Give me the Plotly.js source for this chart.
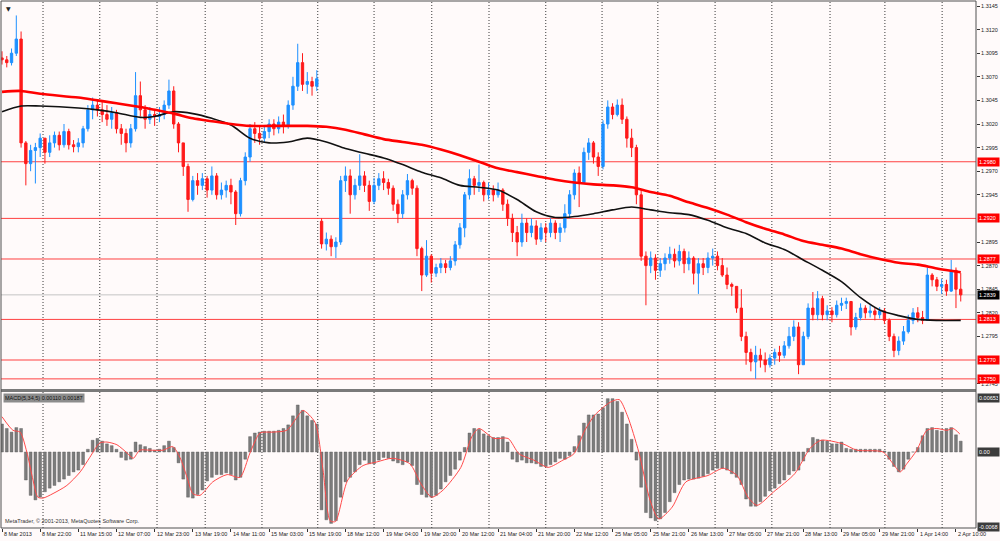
<!DOCTYPE html>
<html><head><meta charset="utf-8">
<script src="https://cdn.plot.ly/plotly-3.0.1.min.js"></script>
<style>html,body{margin:0;padding:0;background:#fffafa;}#chart{width:1000px;height:541px;}</style>
</head><body><div id="chart"></div>
<script>
// ---- price data (2-hour bars) ----
const firstOpen = 1.3090;
const gapOpens = {67: 1.2917};
const closes = [
1.3088,1.3085,1.3095,1.3110,1.3000,1.2978,1.2992,1.2995,1.3005,1.2990,
1.3000,1.3008,1.2998,1.3012,1.2998,1.2996,1.3000,1.3015,1.3035,1.3040,
1.3035,1.3030,1.3025,1.3032,1.3015,1.3010,1.3000,1.3015,1.3050,1.3035,
1.3025,1.3030,1.3028,1.3030,1.3040,1.3055,1.3020,1.3000,1.2975,1.2940,
1.2960,1.2955,1.2962,1.2950,1.2965,1.2945,1.2950,1.2955,1.2948,1.2925,
1.2960,1.2985,1.3015,1.3010,1.3005,1.3012,1.3020,1.3015,1.3022,1.3018,
1.3040,1.3060,1.3085,1.3062,1.3065,1.3060,1.3068,1.2893,1.2898,1.2890,
1.2895,1.2960,1.2965,1.2945,1.2955,1.2965,1.2955,1.2938,1.2955,1.2962,
1.2958,1.2952,1.2935,1.2925,1.2945,1.2960,1.2952,1.2888,1.2860,1.2880,
1.2862,1.2868,1.2872,1.2868,1.2875,1.2892,1.2910,1.2945,1.2962,1.2955,
1.2958,1.2945,1.2950,1.2945,1.2950,1.2935,1.2920,1.2905,1.2895,1.2915,
1.2905,1.2912,1.2898,1.2910,1.2905,1.2915,1.2905,1.2910,1.2925,1.2945,
1.2968,1.2958,1.2990,1.3000,1.2985,1.2975,1.3020,1.3038,1.3030,1.3040,
1.3025,1.3005,1.2995,1.2945,1.2880,1.2870,1.2878,1.2865,1.2872,1.2878,
1.2882,1.2875,1.2885,1.2872,1.2878,1.2862,1.2872,1.2868,1.2878,1.2880,
1.2870,1.2860,1.2850,1.2848,1.2825,1.2795,1.2778,1.2768,1.2775,1.2770,
1.2765,1.2772,1.2778,1.2775,1.2785,1.2795,1.2805,1.2765,1.2795,1.2825,
1.2818,1.2835,1.2818,1.2822,1.2818,1.2828,1.2830,1.2832,1.2805,1.2815,
1.2825,1.2820,1.2822,1.2818,1.2822,1.2812,1.2795,1.2780,1.2790,1.2800,
1.2812,1.2820,1.2815,1.2812,1.2860,1.2855,1.2848,1.2850,1.2843,1.2865,
1.2845,1.2839];
const highs = [
1.3097,1.3092,1.3100,1.3135,1.3118,1.3002,1.2998,1.3000,1.3010,1.3005,
1.3008,1.3012,1.3012,1.3020,1.3015,1.3003,1.3005,1.3018,1.3040,1.3048,
1.3045,1.3045,1.3040,1.3038,1.3035,1.3020,1.3015,1.3020,1.3075,1.3065,
1.3040,1.3038,1.3036,1.3038,1.3045,1.3067,1.3060,1.3022,1.3000,1.2978,
1.2965,1.2968,1.2968,1.2965,1.2975,1.2968,1.2958,1.2960,1.2962,1.2950,
1.2963,1.2990,1.3020,1.3022,1.3018,1.3018,1.3025,1.3025,1.3028,1.3030,
1.3045,1.3070,1.3105,1.3095,1.3075,1.3070,1.3077,1.2920,1.2905,1.2902,
1.2900,1.2965,1.2975,1.2972,1.2962,1.2988,1.2970,1.2960,1.2963,1.2968,
1.2970,1.2962,1.2955,1.2940,1.2950,1.2967,1.2962,1.2955,1.2890,1.2897,
1.2882,1.2872,1.2878,1.2876,1.2880,1.2896,1.2915,1.2948,1.2972,1.2965,
1.2977,1.2960,1.2958,1.2955,1.2958,1.2952,1.2940,1.2925,1.2912,1.2925,
1.2920,1.2920,1.2918,1.2915,1.2915,1.2920,1.2918,1.2915,1.2935,1.2950,
1.2972,1.2975,1.2995,1.3005,1.3002,1.2990,1.3024,1.3045,1.3042,1.3046,
1.3047,1.3028,1.3015,1.2998,1.2950,1.2885,1.2885,1.2882,1.2878,1.2883,
1.2890,1.2888,1.2892,1.2888,1.2885,1.2880,1.2878,1.2878,1.2884,1.2888,
1.2885,1.2878,1.2868,1.2852,1.2848,1.2845,1.2800,1.2782,1.2785,1.2782,
1.2778,1.2776,1.2782,1.2785,1.2790,1.2805,1.2812,1.2810,1.2800,1.2830,
1.2842,1.2843,1.2838,1.2828,1.2826,1.2833,1.2836,1.2836,1.2832,1.2820,
1.2830,1.2828,1.2828,1.2826,1.2826,1.2825,1.2814,1.2798,1.2795,1.2806,
1.2818,1.2825,1.2826,1.2822,1.2868,1.2862,1.2858,1.2856,1.2855,1.2876,
1.2868,1.2862];
const lows = [
1.3083,1.3080,1.3082,1.3092,1.2995,1.2955,1.2970,1.2957,1.2985,1.2978,
1.2985,1.2995,1.2992,1.2995,1.2993,1.2990,1.2990,1.2995,1.3012,1.3025,
1.3028,1.3022,1.3018,1.3015,1.3010,1.2998,1.2990,1.2995,1.3012,1.3028,
1.3015,1.3020,1.3018,1.3022,1.3025,1.3036,1.3015,1.2990,1.2965,1.2927,
1.2938,1.2945,1.2950,1.2942,1.2945,1.2940,1.2940,1.2942,1.2935,1.2913,
1.2922,1.2955,1.2980,1.3000,1.2998,1.3000,1.3005,1.3008,1.3010,1.3010,
1.3015,1.3035,1.3055,1.3055,1.3052,1.3050,1.3055,1.2888,1.2886,1.2880,
1.2878,1.2892,1.2948,1.2925,1.2940,1.2950,1.2948,1.2928,1.2935,1.2950,
1.2950,1.2945,1.2928,1.2915,1.2920,1.2940,1.2945,1.2880,1.2843,1.2858,
1.2852,1.2858,1.2862,1.2862,1.2865,1.2870,1.2888,1.2900,1.2940,1.2945,
1.2948,1.2938,1.2940,1.2938,1.2942,1.2928,1.2912,1.2895,1.2880,1.2890,
1.2895,1.2900,1.2892,1.2895,1.2895,1.2900,1.2898,1.2895,1.2905,1.2920,
1.2940,1.2932,1.2958,1.2982,1.2978,1.2965,1.2972,1.3015,1.3025,1.3028,
1.3020,1.2995,1.2985,1.2935,1.2875,1.2828,1.2862,1.2855,1.2858,1.2865,
1.2872,1.2868,1.2870,1.2862,1.2865,1.2850,1.2840,1.2860,1.2862,1.2870,
1.2865,1.2858,1.2845,1.2838,1.2820,1.2790,1.2765,1.2758,1.2750,1.2762,
1.2757,1.2762,1.2765,1.2768,1.2772,1.2782,1.2790,1.2755,1.2765,1.2792,
1.2812,1.2812,1.2812,1.2812,1.2810,1.2815,1.2822,1.2824,1.2796,1.2802,
1.2812,1.2814,1.2815,1.2812,1.2814,1.2808,1.2790,1.2773,1.2775,1.2786,
1.2798,1.2808,1.2810,1.2808,1.2812,1.2848,1.2843,1.2840,1.2838,1.2842,
1.2825,1.2832];

// ---- moving averages read at sample bars ----
const maIdx = [0,4,8,16,20,24,29,32,36,40,44,48,52,56,60,64,68,72,76,80,84,88,92,96,100,104,108,112,116,120,124,128,132,136,140,144,148,152,156,160,164,168,172,176,180,184,188,192,196,201];
const maRed = [1.3054,1.3055,1.3052,1.3048,1.3045,1.3042,1.3038,1.3035,1.3031,1.3026,1.3023,1.3020,1.3018,1.3018,1.3018,1.3018,1.3017,1.3014,1.3009,1.3004,1.3001,1.2998,1.2993,1.2987,1.2980,1.2973,1.2969,1.2965,1.2961,1.2958,1.2956,1.2955,1.2953,1.2948,1.2944,1.2937,1.2931,1.2924,1.2916,1.2909,1.2903,1.2896,1.2892,1.2888,1.2882,1.2877,1.2873,1.2871,1.2867,1.2863];
const maBlack = [1.3033,1.3039,1.3039,1.3037,1.3035,1.3032,1.3027,1.3028,1.3033,1.3031,1.3026,1.3019,1.3005,1.3000,1.3001,1.3005,1.3001,1.2994,1.2989,1.2984,1.2977,1.2969,1.2963,1.2955,1.2953,1.2950,1.2940,1.2927,1.2921,1.2922,1.2925,1.2929,1.2932,1.2929,1.2926,1.2924,1.2918,1.2910,1.2904,1.2894,1.2887,1.2876,1.2865,1.2853,1.2836,1.2823,1.2817,1.2813,1.2812,1.2812];

// ---- MACD histogram (per bar) and signal (sampled) ----
const macdHist = [
0.0031,0.0026,0.0022,0.0027,0.0026,-0.0031,-0.0048,-0.0053,-0.0050,-0.0044,
-0.0040,-0.0037,-0.0033,-0.0030,-0.0026,-0.0022,-0.0020,-0.0014,0.0003,0.0013,
0.0015,0.0012,0.0009,0.0007,0.0003,-0.0006,-0.0009,-0.0008,0.0011,0.0008,
0.0006,0.0004,0.0002,0.0003,0.0007,0.0012,0.0005,-0.0012,-0.0030,-0.0050,
-0.0051,-0.0047,-0.0042,-0.0032,-0.0028,-0.0025,-0.0025,-0.0023,-0.0025,-0.0031,
-0.0028,-0.0008,0.0017,0.0021,0.0022,0.0023,0.0023,0.0023,0.0024,0.0026,
0.0030,0.0040,0.0052,0.0046,0.0040,0.0035,0.0031,-0.0064,-0.0075,-0.0079,
-0.0076,-0.0050,-0.0033,-0.0028,-0.0022,-0.0014,-0.0009,-0.0013,-0.0013,-0.0009,
-0.0006,-0.0007,-0.0010,-0.0012,-0.0014,-0.0011,-0.0015,-0.0036,-0.0047,-0.0050,
-0.0050,-0.0048,-0.0041,-0.0033,-0.0026,-0.0019,-0.0009,0.0005,0.0021,0.0026,
0.0025,0.0020,0.0018,0.0016,0.0016,0.0017,0.0011,-0.0008,-0.0011,-0.0009,
-0.0012,-0.0012,-0.0013,-0.0016,-0.0016,-0.0014,-0.0011,-0.0007,-0.0008,-0.0004,
0.0006,0.0018,0.0032,0.0041,0.0041,0.0042,0.0049,0.0059,0.0059,0.0056,
0.0044,0.0031,0.0014,-0.0009,-0.0039,-0.0067,-0.0073,-0.0076,-0.0074,-0.0067,
-0.0055,-0.0045,-0.0036,-0.0031,-0.0030,-0.0030,-0.0029,-0.0027,-0.0024,-0.0020,
-0.0018,-0.0018,-0.0020,-0.0024,-0.0028,-0.0036,-0.0052,-0.0060,-0.0060,-0.0055,
-0.0049,-0.0043,-0.0040,-0.0035,-0.0031,-0.0025,-0.0021,-0.0020,-0.0010,0.0004,
0.0016,0.0014,0.0013,0.0012,0.0009,0.0009,0.0011,0.0004,0.0003,0.0003,
0.0003,0.0003,0.0003,0.0003,0.0003,0.0001,-0.0008,-0.0016,-0.0022,-0.0019,
-0.0008,0.0000,0.0005,0.0018,0.0026,0.0027,0.0024,0.0023,0.0026,0.0027,
0.0019,0.0012];
const sigIdx = [0,2.3,3.8,5.2,6.5,7.5,8.6,10.7,13.6,16.4,18.4,20.5,22,24.1,26.2,27.5,28.9,31,33.8,35.8,37.3,38.8,40,41.5,44.2,47.2,49.9,52,54.1,56.8,59.7,61.8,63.1,65.6,67.3,68.8,69.9,72.5,75.7,78.6,81.8,85.5,87.8,90.1,92.5,96.2,98.5,100,103.1,106.1,108.4,111.5,114.5,117.6,119.9,122.2,124.3,127.5,129.4,131.2,133.5,135.9,137.7,140.5,143.4,148,151.2,154.1,156.4,158.3,161.8,166.2,169.4,171.7,176.3,179.2,184.7,186.8,188.3,189.7,191.8,193.9,196,198.1,199.4,200.8];
const sigVal = [0.0039,0.0024,0.0022,0.0000,-0.0031,-0.0050,-0.0051,-0.0046,-0.0037,-0.0022,-0.0006,0.0010,0.0011,0.0008,-0.0001,-0.0007,0.0002,0.0002,0.0002,0.0006,-0.0006,-0.0028,-0.0046,-0.0048,-0.0033,-0.0025,-0.0028,-0.0001,0.0021,0.0022,0.0024,0.0038,0.0046,0.0033,-0.0020,-0.0076,-0.0077,-0.0031,-0.0015,-0.0011,-0.0007,-0.0013,-0.0035,-0.0050,-0.0042,-0.0017,0.0017,0.0026,0.0015,0.0015,-0.0002,-0.0009,-0.0017,-0.0009,-0.0002,0.0024,0.0041,0.0055,0.0058,0.0039,0.0000,-0.0054,-0.0074,-0.0061,-0.0033,-0.0026,-0.0018,-0.0026,-0.0050,-0.0059,-0.0044,-0.0024,0.0004,0.0013,0.0009,0.0002,0.0000,-0.0013,-0.0022,-0.0013,0.0002,0.0024,0.0026,0.0024,0.0026,0.0020];

// ---- levels, ticks, labels ----
const levels = [1.2980, 1.2920, 1.2877, 1.2813, 1.2770, 1.2750];
const priceTicks = [1.3145,1.3120,1.3095,1.3070,1.3045,1.3020,1.2995,1.2970,1.2945,1.2895,1.2870,1.2845,1.2820,1.2795,1.2745];
const tickIdx = [0,8,16,24,32,40,48,56,64,72,80,88,96,104,112,120,128,136,144,152,160,168,176,184,192,200];
const tickLabels = ["8 Mar 2013","8 Mar 22:00","11 Mar 15:00","12 Mar 07:00","12 Mar 23:00","13 Mar 19:00","14 Mar 11:00","15 Mar 03:00","15 Mar 19:00","18 Mar 12:00","19 Mar 04:00","19 Mar 20:00","20 Mar 12:00","21 Mar 04:00","21 Mar 20:00","22 Mar 12:00","25 Mar 05:00","25 Mar 21:00","26 Mar 13:00","27 Mar 05:00","27 Mar 21:00","28 Mar 13:00","29 Mar 05:00","29 Mar 21:00","1 Apr 14:00","2 Apr 10:00"];
const gridIdx = [8.6,20.5,32.5,42.6,54.5,66.2,78,90.1,102.1,114,125.8,137.5,149.5,161.4,173.6,185.1,197.1];
const macdName = "MACD(5,34,5) 0.00110 0.00187";
const macdScale = ["0.00653", "0.00", "-0.00687"];
const copyright = "MetaTrader, \u00a9 2001-2013, MetaQuotes Software Corp.";

// ---- build ----
const idx = closes.map((_, i) => i);
const opens = closes.map((c, i) => i === 0 ? firstOpen : (gapOpens[i] !== undefined ? gapOpens[i] : closes[i - 1]));
const hi = highs.map((h, i) => Math.max(h, opens[i], closes[i]));
const lo = lows.map((l, i) => Math.min(l, opens[i], closes[i]));
const lastClose = closes[closes.length - 1];

const FONT = 'Liberation Sans, Arial, sans-serif';
const FS = 5.5;
const MAIN_BOTTOM = 0.2638, MACD_TOP = 0.2581;

const data = [
  {type:'candlestick', x: idx, open: opens, high: hi, low: lo, close: closes,
   xaxis:'x', yaxis:'y', hoverinfo:'none', whiskerwidth:0,
   increasing:{line:{color:'#1e90ff', width:1}, fillcolor:'#1e90ff'},
   decreasing:{line:{color:'#ff1a1a', width:1}, fillcolor:'#ff1a1a'}},
  {type:'scatter', mode:'lines', x: maIdx, y: maBlack, xaxis:'x', yaxis:'y',
   line:{color:'#111111', width:1.6, shape:'spline', smoothing:0.8}, hoverinfo:'none'},
  {type:'scatter', mode:'lines', x: maIdx, y: maRed, xaxis:'x', yaxis:'y',
   line:{color:'#ff0000', width:2.6, shape:'spline', smoothing:0.8}, hoverinfo:'none'},
  {type:'bar', x: idx, y: macdHist, xaxis:'x', yaxis:'y2', width:0.6,
   marker:{color:'#7c7c7c', line:{color:'#555555', width:0.4}}, hoverinfo:'none'},
  {type:'scatter', mode:'lines', x: sigIdx, y: sigVal, xaxis:'x', yaxis:'y2',
   line:{color:'#ff4a4a', width:1, shape:'spline', smoothing:0.7}, hoverinfo:'none'}
];

const shapes = [];
gridIdx.forEach(g => shapes.push({type:'line', layer:'below', xref:'x', yref:'paper', x0:g, x1:g, y0:0, y1:1,
  line:{color:'#3a3a3a', width:1, dash:'1px,2px'}}));
levels.forEach(lv => shapes.push({type:'line', layer:'below', xref:'paper', yref:'y', x0:0, x1:1, y0:lv, y1:lv,
  line:{color:'#ff4040', width:1}}));
shapes.push({type:'line', layer:'below', xref:'paper', yref:'y', x0:0, x1:1, y0:lastClose, y1:lastClose,
  line:{color:'#c4c4c4', width:1}});
shapes.push({type:'rect', xref:'paper', yref:'paper', x0:0, x1:1, y0:MACD_TOP, y1:MAIN_BOTTOM,
  fillcolor:'#7a7a7a', line:{width:0}});
shapes.push({type:'rect', xref:'paper', yref:'paper', x0:0, x1:1, y0:0, y1:1,
  line:{color:'#505050', width:1}});

const annotations = [];
tickIdx.forEach((t, k) => annotations.push({x:t, xref:'x', y:0, yref:'paper', xanchor:'left', yanchor:'top',
  xshift:0, yshift:-1, text:tickLabels[k], showarrow:false, font:{family:FONT, size:FS, color:'#222'}}));
levels.forEach(lv => annotations.push({x:1, xref:'paper', y:lv, yref:'y', xanchor:'left', yanchor:'middle',
  xshift:1, text:lv.toFixed(4), showarrow:false, bgcolor:'#ff0000', borderpad:1, width:19, align:'left',
  font:{family:FONT, size:FS, color:'#ffffff'}}));
annotations.push({x:1, xref:'paper', y:lastClose, yref:'y', xanchor:'left', yanchor:'middle',
  xshift:1, text:lastClose.toFixed(4), showarrow:false, bgcolor:'#000000', borderpad:1, width:19, align:'left',
  font:{family:FONT, size:FS, color:'#ffffff'}});
annotations.push({x:1, xref:'paper', y:MACD_TOP, yref:'paper', xanchor:'left', yanchor:'top', xshift:1, yshift:-1,
  text:macdScale[0], showarrow:false, bgcolor:'#3c3c3c', borderpad:1, width:19, align:'left',
  font:{family:FONT, size:FS, color:'#ffffff'}});
annotations.push({x:1, xref:'paper', y:0, yref:'y2', xanchor:'left', yanchor:'middle', xshift:1,
  text:macdScale[1], showarrow:false, bgcolor:'#3c3c3c', borderpad:1, width:19, align:'left',
  font:{family:FONT, size:FS, color:'#ffffff'}});
annotations.push({x:1, xref:'paper', y:0, yref:'paper', xanchor:'left', yanchor:'middle', xshift:1, yshift:1,
  text:macdScale[2], showarrow:false, bgcolor:'#3c3c3c', borderpad:1, width:19, align:'left',
  font:{family:FONT, size:FS, color:'#ffffff'}});
annotations.push({x:0, xref:'paper', y:MACD_TOP, yref:'paper', xanchor:'left', yanchor:'top', xshift:2, yshift:-1,
  text:macdName, showarrow:false, bgcolor:'#8c8c8c', borderpad:1,
  font:{family:FONT, size:FS, color:'#111'}});
annotations.push({x:0, xref:'paper', y:0, yref:'paper', xanchor:'left', yanchor:'bottom', xshift:2, yshift:2,
  text:copyright, showarrow:false, font:{family:FONT, size:FS, color:'#333'}});
annotations.push({x:0, xref:'paper', y:1, yref:'paper', xanchor:'left', yanchor:'top', xshift:3, yshift:-2,
  text:'\u25BC', showarrow:false, font:{family:'DejaVu Sans', size:6, color:'#222'}});

const layout = {
  width:1000, height:541,
  margin:{l:1, r:24, t:1, b:13, pad:0},
  paper_bgcolor:'#fffafa', plot_bgcolor:'#fffafa',
  showlegend:false,
  xaxis:{range:[-0.21, 204.2], anchor:'y2', showgrid:false, zeroline:false, showline:false,
    tickvals:tickIdx, showticklabels:false, ticks:'outside', ticklen:3, tickcolor:'#333', tickwidth:1,
    rangeslider:{visible:false}, fixedrange:true},
  yaxis:{domain:[MAIN_BOTTOM, 1], range:[1.27393, 1.31503], side:'right', anchor:'x',
    tickvals:priceTicks, ticktext:priceTicks.map(v => v.toFixed(4)), ticks:'outside', ticklen:3,
    tickcolor:'#333', tickwidth:1, tickfont:{family:FONT, size:FS, color:'#222'},
    showgrid:false, zeroline:false, showline:false, fixedrange:true},
  yaxis2:{domain:[0, MACD_TOP], range:[-0.00841, 0.00664], side:'right', anchor:'x',
    showticklabels:false, ticks:'', showgrid:false, zeroline:false, showline:false, fixedrange:true},
  bargap:0,
  shapes: shapes,
  annotations: annotations
};

Plotly.newPlot('chart', data, layout, {staticPlot:true, displayModeBar:false});
</script>
</body></html>
